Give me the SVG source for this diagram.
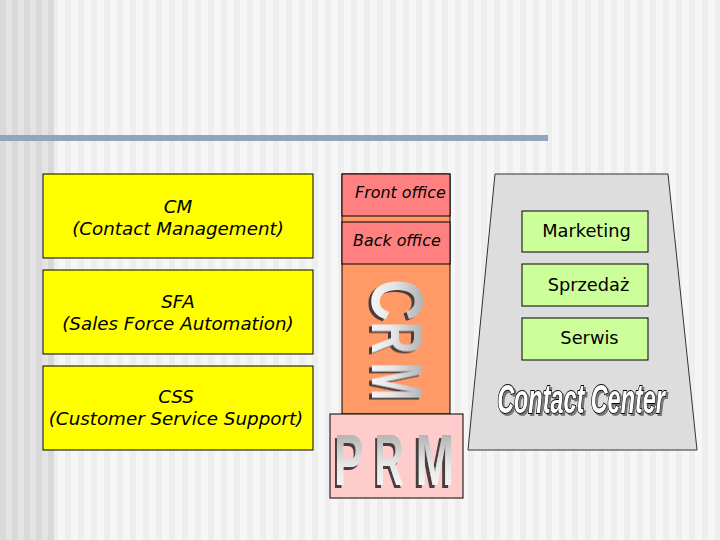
<svg xmlns="http://www.w3.org/2000/svg" width="720" height="540" viewBox="0 0 720 540">
<defs>
<pattern id="bgL" width="12" height="10" patternUnits="userSpaceOnUse"><rect width="12" height="10" fill="#E4E4E4"/><rect width="6" height="10" fill="#D9D9D9"/></pattern>
<pattern id="bgR" width="13" height="10" patternUnits="userSpaceOnUse"><rect width="13" height="10" fill="#F6F6F6"/><rect width="6" height="10" fill="#EEEEEE"/></pattern>
<linearGradient id="metal" x1="0" y1="0" x2="0" y2="1"><stop offset="0" stop-color="#9A9A9A"/><stop offset="0.55" stop-color="#E6E6E6"/><stop offset="1" stop-color="#FFFFFF"/></linearGradient>
<filter id="shA" x="-30%" y="-30%" width="160%" height="160%">
<feOffset in="SourceAlpha" dx="3" dy="3" result="o"/><feFlood flood-color="#4A3C3C"/><feComposite in2="o" operator="in" result="s"/>
<feMerge><feMergeNode in="s"/><feMergeNode in="SourceGraphic"/></feMerge></filter>
<filter id="shB" x="-30%" y="-30%" width="160%" height="160%">
<feOffset in="SourceAlpha" dx="-4" dy="3" result="o"/><feFlood flood-color="#4A3C3C"/><feComposite in2="o" operator="in" result="s"/>
<feMerge><feMergeNode in="s"/><feMergeNode in="SourceGraphic"/></feMerge></filter>
<filter id="shC" x="-10%" y="-30%" width="120%" height="160%">
<feOffset in="SourceAlpha" dx="3" dy="2" result="o"/><feFlood flood-color="#777777"/><feComposite in2="o" operator="in" result="s"/>
<feMerge><feMergeNode in="s"/><feMergeNode in="SourceGraphic"/></feMerge></filter>
<style>
.box{stroke:#000;stroke-width:1}
.lbl{font-family:"DejaVu Sans","Liberation Sans",sans-serif;font-style:italic;font-size:18.3px;fill:#000;text-anchor:middle}
.off{font-family:"DejaVu Sans","Liberation Sans",sans-serif;font-style:italic;font-size:15.9px;fill:#000}
.grn{font-family:"DejaVu Sans","Liberation Sans",sans-serif;font-size:17.8px;fill:#000;text-anchor:middle}
.big{font-family:"Liberation Sans",Arial,sans-serif;font-weight:bold;font-size:72px;text-anchor:middle;fill:url(#metal)}
.cc{font-family:"Liberation Sans",Arial,sans-serif;font-weight:bold;font-style:italic;font-size:40px;text-anchor:middle}
</style>
</defs>
<rect x="0" y="0" width="720" height="540" fill="url(#bgR)"/>
<rect x="0" y="0" width="54" height="540" fill="url(#bgL)"/>
<rect x="0" y="135" width="548" height="6" fill="#91A6BE"/>

<g id="cm"><rect class="box" x="43" y="174" width="270" height="84" fill="#FFFF00"/>
<text class="lbl" x="178" y="213">CM</text><text class="lbl" x="178" y="235">(Contact Management)</text></g>
<g id="sfa"><rect class="box" x="43" y="270" width="270" height="84" fill="#FFFF00"/>
<text class="lbl" x="178" y="308">SFA</text><text class="lbl" x="178" y="330">(Sales Force Automation)</text></g>
<g id="css"><rect class="box" x="43" y="366" width="270" height="84" fill="#FFFF00"/>
<text class="lbl" x="176" y="403">CSS</text><text class="lbl" x="176" y="425">(Customer Service Support)</text></g>

<g id="crm">
<rect class="box" x="342" y="174" width="108" height="240" fill="#FF9966"/>
<rect class="box" x="342" y="174" width="108" height="42" fill="#FF8080"/>
<rect class="box" x="342" y="222" width="108" height="42" fill="#FF8080"/>
<text class="off" x="355" y="198">Front office</text>
<text class="off" x="353" y="246">Back office</text>
<g transform="translate(372,300) rotate(90) scale(0.8,1)"><text class="big" x="0" y="0" filter="url(#shA)">C</text></g>
<g transform="translate(372,337.5) rotate(90) scale(0.62,1)"><text class="big" x="0" y="0" filter="url(#shA)">R</text></g>
<g transform="translate(372,381.5) rotate(90) scale(0.64,1)"><text class="big" x="0" y="0" filter="url(#shA)">M</text></g>
</g>

<g id="prm">
<rect class="box" x="330" y="414" width="133" height="84" fill="#FFCCCC"/>
<g transform="translate(349,485) scale(0.62,1)"><text class="big" x="0" y="0" filter="url(#shB)">P</text></g>
<g transform="translate(389,485) scale(0.56,1)"><text class="big" x="0" y="0" filter="url(#shB)">R</text></g>
<g transform="translate(435,485) scale(0.64,1)"><text class="big" x="0" y="0" filter="url(#shB)">M</text></g>
</g>

<g id="contact-center">
<polygon points="495,174 668,174 697,450 468,450" fill="#DDDDDD" stroke="#333" stroke-width="1"/>
<g transform="translate(581,413) scale(0.585,1)"><text class="cc" x="0" y="0" fill="#FFF" stroke="#000" stroke-width="2" paint-order="stroke" filter="url(#shC)">Contact Center</text></g>
</g>
<g id="marketing"><rect class="box" x="522" y="211" width="126" height="41" fill="#CCFF99"/><text class="grn" x="586.5" y="237">Marketing</text></g>
<g id="sprzedaz"><rect class="box" x="522" y="264" width="126" height="42" fill="#CCFF99"/><text class="grn" x="588.5" y="291">Sprzedaż</text></g>
<g id="serwis"><rect class="box" x="522" y="318" width="126" height="42" fill="#CCFF99"/><text class="grn" x="589.5" y="344">Serwis</text></g>
</svg>
